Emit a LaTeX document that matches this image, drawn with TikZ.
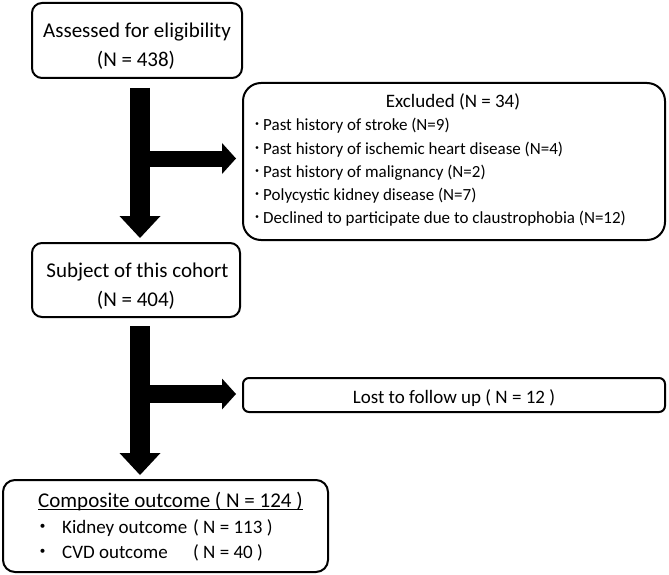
\documentclass[tikz,border=0pt]{standalone}
\usepackage{fontspec}
\setmainfont{Carlito}
\newfontfamily\cjk{Noto Sans CJK JP}
\usetikzlibrary{arrows.meta,calc}
\newcommand{\bul}{\smash{\cjk ・}}
\newcommand{\hbul}{\smash{\cjk ･}}
\begin{document}
\begin{tikzpicture}[x=1pt,y=-1pt,
  box/.style={draw=black,line width=2pt,rounded corners=#1,inner sep=0pt},
  box/.default=10pt,
  tbig/.style={inner sep=0pt,anchor=base,font=\fontsize{21}{25}\selectfont},
  tmid/.style={inner sep=0pt,anchor=base,font=\fontsize{19}{23}\selectfont},
  tsmall/.style={inner sep=0pt,anchor=base west,font=\fontsize{17}{20}\selectfont},
  fatdown/.style={line width=20pt,-{Triangle[length=22pt,width=41pt,line width=0pt]}},
  fatright/.style={line width=#1,-{Triangle[length=14pt,width=31pt,line width=0pt]}}
]
\fill[white] (0,0) rectangle (669,575);
\useasboundingbox (0,0) rectangle (669,575);

% boxes
\node[box, minimum width=210pt, minimum height=75pt] (b1) at (137,40.5) {};
\node[box=18pt, minimum width=422pt, minimum height=157pt] (excl) at (454,161.5) {};
\node[box, minimum width=208pt, minimum height=74pt] (sub) at (136,280) {};
\node[box=6pt, minimum width=422pt, minimum height=34pt] (lost) at (454,395) {};
\node[box=12pt, minimum width=325pt, minimum height=92pt] (comp) at (165.5,526) {};

% texts
\node[tbig] (t1a) at (137,37.5) {Assessed for eligibility};
\node[tbig] (t1b) at (136,67) {(N = 438)};

\node[tmid] (tex) at (453,108) {Excluded (N = 34)};
\node[tsmall] (e1) at (252.75,131) {\hbul\hspace{1.75pt}Past history of stroke (N=9)};
\node[tsmall] (e2) at (252.75,154) {\hbul\hspace{1.75pt}Past history of ischemic heart disease (N=4)};
\node[tsmall] (e3) at (252.75,177) {\hbul\hspace{1.75pt}Past history of malignancy (N=2)};
\node[tsmall] (e4) at (252.75,200) {\hbul\hspace{1.75pt}Polycystic kidney disease (N=7)};
\node[tsmall] (e5) at (252.75,223) {\hbul\hspace{1.75pt}Declined to participate due to claustrophobia (N=12)};

\node[tbig] (tsa) at (137.5,277) {Subject of this cohort};
\node[tbig] (tsb) at (136,306) {(N = 404)};

\node[tmid] (tl) at (454,403) {Lost to follow up ( N = 12 )};

\node[tbig,anchor=base west] (tc) at (38,507) {Composite outcome ( N = 124 )};
\draw[line width=1.3pt] ($(tc.base west)+(0,2.5)$) -- ($(tc.base east)+(0,2.5)$);
\node[tmid,anchor=base west] (c1) at (33.5,533) {\bul\hspace{9.5pt}\makebox[131pt][l]{Kidney outcome}( N = 113 )};
\node[tmid,anchor=base west] (c2) at (33.5,558) {\bul\hspace{9.5pt}\makebox[131pt][l]{CVD outcome}( N = 40 )};

% arrows
\coordinate (v1) at ($(b1.south)+(3,9)$);
\coordinate (d1) at ($(sub.north)+(4,-4)$);
\coordinate (h1) at ($(excl.west)+(-6,-3)$);
\coordinate (v2) at ($(sub.south)+(4,8)$);
\coordinate (d2) at ($(comp.north)+(-25.5,-4)$);
\coordinate (h2) at ($(lost.west)+(-6,-1)$);

\draw[fatright=16pt] (v1 |- h1) -- (h1);
\draw[fatdown] (v1) -- (d1);
\draw[fatright=18pt] (v2 |- h2) -- (h2);
\draw[fatdown] (v2) -- (d2);
\end{tikzpicture}
\end{document}
